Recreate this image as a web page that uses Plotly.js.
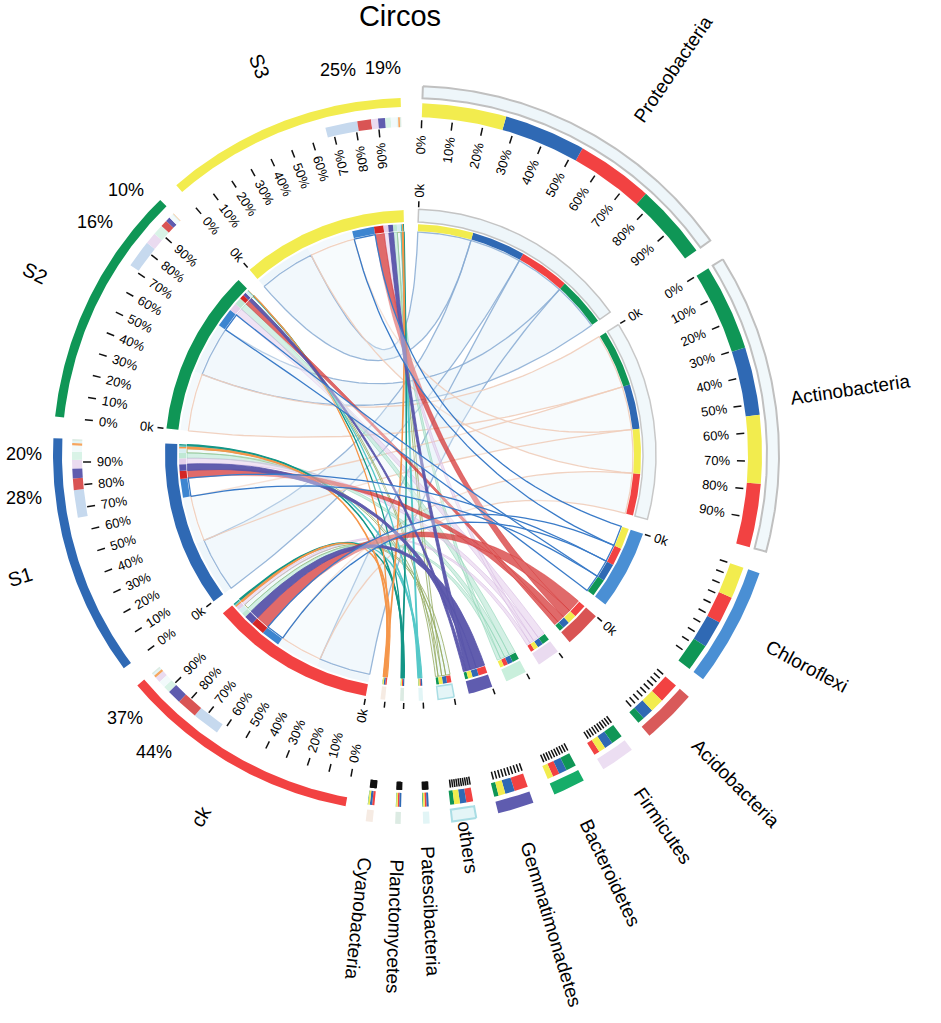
<!DOCTYPE html>
<html><head><meta charset="utf-8">
<script src="https://cdn.plot.ly/plotly-3.0.1.min.js"></script>
<style>html,body{margin:0;padding:0;background:#fff}#chart{width:941px;height:1023px}</style>
</head><body><div id="chart"></div>
<script>
// ---------------- data ----------------
const samples = ['ck', 'S1', 'S2', 'S3'];
const taxa = ['Proteobacteria', 'Actinobacteria', 'Chloroflexi', 'Acidobacteria', 'Firmicutes',
  'Bacteroidetes', 'Gemmatimonadetes', 'others', 'Patescibacteria', 'Planctomycetes', 'Cyanobacteria'];
// relative abundance (% of each sample), in the order of `taxa`
const ckPct = [34, 28, 12, 9, 2.5, 3, 6, 3, 0.8, 0.7, 1.0];
const s1Pct = [36, 30, 12, 5, 3.8, 3.5, 4.2, 2.8, 0.9, 0.8, 1.0];
const s2Pct = [33, 38, 12, 3, 5, 4.5, 2, 1.8, 0.3, 0.2, 0.2];
const s3Pct = [37, 30, 14, 6, 3, 2.5, 3, 2.5, 0.7, 0.6, 0.7];
const pctTickLabels = ['0%', '10%', '20%', '30%', '40%', '50%', '60%', '70%', '80%', '90%'];
const zeroLabel = '0k';
const sampleNoteA = ['37%', '20%', '10%', '19%'];
const sampleNoteB = ['44%', '28%', '16%', '25%'];

// ---------------- styles ----------------
const FONT = 'Liberation Sans, Arial, Helvetica, sans-serif';
const W = 941, H = 1023, CX = 410, CY = 455;
const GAP = 3.5, SAMPLE_ARC = 39.4, START = 2;
const sampleColor = ['#f24242', '#2f69b4', '#0f9656', '#f2ec4e'];
const NONE = 'rgba(255,255,255,0)';
const tx = [
  {cf:'rgba(226,240,249,0.45)', cl:'rgba(135,170,210,0.85)', cw:1.3, sub:'rgba(226,240,249,0.6)', inF:'#eef6fa', inL:'#c4c4c4', outF:'#eef6fa', outL:'#c0c0c0', comp:NONE},
  {cf:'rgba(232,243,249,0.35)', cl:'rgba(240,205,186,0.9)', cw:1.3, sub:'rgba(236,245,250,0.6)', inF:'#f1f8fb', inL:'#c8c8c8', outF:'#f1f8fb', outL:'#c0c0c0', comp:NONE},
  {cf:'rgba(255,255,255,0.35)', cl:'#3a7bc8', cw:1.3, sub:'#3d85d0', inF:'#4a8fd4', outF:'#4a8fd4', comp:'#c6d9ee'},
  {cf:'rgba(212,48,48,0.72)', cl:'rgba(212,48,48,0.55)', cw:0.8, sub:'#d42626', inF:'#d95454', outF:'#d95a5a', comp:'#d95454'},
  {cf:'rgba(226,200,233,0.5)', cl:'rgba(214,185,224,0.7)', cw:0.8, sub:'#e5cfea', inF:'#eadbf0', outF:'#ecdef2', comp:'#eadbf0'},
  {cf:'rgba(170,226,204,0.5)', cl:'rgba(140,212,180,0.7)', cw:0.8, sub:'#bfe8d4', inF:'#c9efdc', outF:'#16ad69', comp:'#d9f3e7'},
  {cf:'rgba(88,84,170,0.95)', cl:'#5854aa', cw:0.8, sub:'#5854aa', inF:'#5f5caf', outF:'#5f5caf', comp:'#5f5caf'},
  {cf:'rgba(215,240,242,0.35)', cl:'rgba(150,170,95,0.8)', cw:1, sub:'#d6eef1', inF:'#e4f5f7', inL:'#a9dde4', outF:'#e4f5f7', outL:'#a9dde4', comp:'#f2fafb'},
  {cf:'rgba(85,200,200,0.7)', cl:'#55c8c8', cw:1.1, sub:'#55c8c8', inF:'#e2f5f6', outF:'#e2f5f6', comp:'#e2f5f6'},
  {cf:'rgba(20,150,135,0.9)', cl:'#149687', cw:1.1, sub:'#149687', inF:'#dcebe3', outF:'#dcebe3', comp:'#dcebe3'},
  {cf:'rgba(245,150,70,0.85)', cl:'#f5964a', cw:1.1, sub:'#f5964a', inF:'#f6ebe3', outF:'#f6ebe3', comp:'#f5a55e'}
];
const chordOrder = [0, 1, 7, 5, 4, 8, 9, 10, 3, 6, 2];
const nameR0 = {Actinobacteria: 385, others: 370, Patescibacteria: 392};
const nameDeg = {Proteobacteria: 6};

// ---------------- layout computation ----------------
const pct = [ckPct, s1Pct, s2Pct, s3Pct];
const taxTot = taxa.map((t, i) => pct.reduce((s, p) => s + p[i], 0));
const totAll = taxTot.reduce((a, b) => a + b, 0);
const degPerUnit = (360 - GAP * (taxa.length + samples.length) - SAMPLE_ARC * samples.length) / totAll;
let cur = START;
const taxSeg = taxTot.map(v => { const s = cur, e = cur + v * degPerUnit; cur = e + GAP; return {s, e}; });
const smpSeg = samples.map(() => { const s = cur, e = cur + SAMPLE_ARC; cur = e + GAP; return {s, e}; });

const sEnd = samples.map((sm, j) => {
  const ord = taxa.map((t, i) => i).sort((a, b) => pct[j][b] - pct[j][a]);
  const res = []; let c = smpSeg[j].s;
  ord.forEach(i => { const w = pct[j][i] * SAMPLE_ARC / 100; res[i] = [c, c + w]; c += w; });
  return {ord, res};
});
const tEnd = taxa.map((t, i) => {
  const ord = samples.map((s, j) => j).sort((a, b) => pct[b][i] - pct[a][i]);
  const res = []; let c = taxSeg[i].s;
  ord.forEach(j => { const w = pct[j][i] * degPerUnit; res[j] = [c, c + w]; c += w; });
  return {ord, res};
});

// ---------------- geometry helpers ----------------
const rad = d => d * Math.PI / 180;
const P = (deg, r) => [r * Math.sin(rad(deg)), r * Math.cos(rad(deg))];
function arcPts(a0, a1, r) {
  const n = Math.max(2, Math.ceil(Math.abs(a1 - a0) / 0.4) + 1), out = [];
  for (let k = 0; k < n; k++) out.push(P(a0 + (a1 - a0) * k / (n - 1), r));
  return out;
}
function band(a0, a1, r0, r1) { return arcPts(a0, a1, r1).concat(arcPts(a1, a0, r0)); }
function bez(p0, p1) {
  const out = [];
  for (let k = 1; k < 40; k++) { const t = k / 40, u = 1 - t; out.push([u * u * p0[0] + t * t * p1[0], u * u * p0[1] + t * t * p1[1]]); }
  return out;
}
function ribbon(a0, a1, b0, b1, r) {
  return arcPts(a0, a1, r).concat(bez(P(a1, r), P(b0, r)), arcPts(b0, b1, r), bez(P(b1, r), P(a0, r)));
}
const traces = [];
function addPolys(polys, fill, lineColor, lineWidth) {
  const x = [], y = [];
  polys.forEach(p => { p.forEach(q => { x.push(q[0]); y.push(q[1]); }); x.push(p[0][0], null); y.push(p[0][1], null); });
  traces.push({type: 'scatter', mode: 'lines', x, y, fill: 'toself', fillcolor: fill,
    line: {color: lineColor || 'rgba(0,0,0,0)', width: lineWidth || 0}, hoverinfo: 'skip', showlegend: false});
}
function addLines(segs, color, width) {
  const x = [], y = [];
  segs.forEach(s => { x.push(s[0][0], s[1][0], null); y.push(s[0][1], s[1][1], null); });
  traces.push({type: 'scatter', mode: 'lines', x, y, line: {color, width}, hoverinfo: 'skip', showlegend: false});
}

const R_CH = 223;
// ---------------- chords ----------------
chordOrder.forEach(i => {
  const polys = samples.map((s, j) => {
    const a = sEnd[j].res[i], b = tEnd[i].res[j];
    return ribbon(a[0], a[1], b[0], b[1], R_CH);
  });
  addPolys(polys, tx[i].cf, tx[i].cl, tx[i].cw);
});

// ---------------- inner ring ----------------
taxa.forEach((t, i) => addPolys([band(taxSeg[i].s, taxSeg[i].e, 233, 246)], tx[i].inF, tx[i].inL, tx[i].inL ? 1.5 : 0));
samples.forEach((s, j) => addPolys([band(smpSeg[j].s, smpSeg[j].e, 233, 245)], sampleColor[j]));
taxa.forEach((t, i) => addPolys(samples.map((s, j) => band(sEnd[j].res[i][0], sEnd[j].res[i][1], 224, 231)), tx[i].sub));
samples.forEach((s, j) => addPolys(taxa.map((t, i) => band(tEnd[i].res[j][0], tEnd[i].res[j][1], 224, 231)), sampleColor[j]));

// ---------------- outer ring: samples ----------------
taxa.forEach((t, i) => addPolys(samples.map((s, j) => band(sEnd[j].res[i][0], sEnd[j].res[i][1], 328, 338)), tx[i].comp));
samples.forEach((s, j) => addPolys([band(smpSeg[j].s, smpSeg[j].e, 348, 357)], sampleColor[j]));
// ---------------- outer ring: taxa ----------------
samples.forEach((s, j) => addPolys(taxa.map((t, i) => band(tEnd[i].res[j][0], tEnd[i].res[j][1], 338, 352)), sampleColor[j]));
taxa.forEach((t, i) => addPolys([band(taxSeg[i].s, taxSeg[i].e, 357, 369)], tx[i].outF, tx[i].outL, tx[i].outL ? 2 : 0));

// ---------------- ticks ----------------
const tickSegs = [];
const allSeg = taxSeg.concat(smpSeg);
allSeg.forEach(g => tickSegs.push([P(g.s, 248), P(g.s, 254)]));
smpSeg.forEach(g => pctTickLabels.forEach((l, k) => { const d = g.s + (g.e - g.s) * k / 10; tickSegs.push([P(d, 319), P(d, 327)]); }));
taxSeg.forEach(g => pctTickLabels.forEach((l, k) => { const d = g.s + (g.e - g.s) * k / 10; tickSegs.push([P(d, 327), P(d, 335)]); }));
addLines(tickSegs, '#111', 1.5);

// ---------------- text ----------------
const ctx = document.createElement('canvas').getContext('2d');
function textW(t, size) { ctx.font = size + 'px "Liberation Sans", Arial, sans-serif'; return ctx.measureText(t).width; }
const norm = a => { a = ((a + 180) % 360 + 360) % 360 - 180; return a; };
const readRot = d => (d < 180 || d > 345) ? norm(d - 90) : norm(d + 90);
const annotations = [];
function ann(text, deg, r, angle, size, minX) {
  const p = P(deg, r);
  if (minX !== undefined) p[0] = Math.max(p[0], minX);
  annotations.push({x: p[0], y: p[1], xref: 'x', yref: 'y', text, showarrow: false, textangle: angle,
    font: {family: FONT, size, color: '#000'}, xanchor: 'center', yanchor: 'middle', borderpad: 0});
}
smpSeg.forEach(g => pctTickLabels.forEach((l, k) => { const d = g.s + (g.e - g.s) * k / 10; ann(l, d, 313 - textW(l, 13) / 2, readRot(d), 13); }));
taxSeg.forEach(g => { if (g.e - g.s > 30) pctTickLabels.forEach((l, k) => { const d = g.s + (g.e - g.s) * k / 10; ann(l, d, 320 - textW(l, 13) / 2, readRot(d), 13); }); });
allSeg.forEach(g => { if (g.e - g.s > 7) ann(zeroLabel, g.s, 258 + textW(zeroLabel, 13) / 2, readRot(g.s), 13); });
taxa.forEach((t, i) => {
  const d = (taxSeg[i].s + taxSeg[i].e) / 2 + (nameDeg[t] || 0);
  const r0 = nameR0[t] || 405;
  ann(t, d, r0 + textW(t, 19) / 2, norm(d - 90), 19);
});
samples.forEach((s, j) => {
  const g = smpSeg[j], d = (g.s + g.e) / 2;
  ann(s, d, 417, norm(d + 90), 20, -CX + 20);
  ann(sampleNoteA[j], g.s + (g.e - g.s) * 0.935, 388, 0, 18, -CX + 24);
  ann(sampleNoteB[j], g.s + (g.e - g.s) * 0.77, 392, 0, 18, -CX + 24);
});

const layout = {
  width: W, height: H, margin: {l: 0, r: 0, t: 0, b: 0},
  paper_bgcolor: '#ffffff', plot_bgcolor: '#ffffff', showlegend: false,
  title: {text: 'Circos', font: {family: FONT, size: 29, color: '#000'}, x: 400 / W, xanchor: 'center', y: 1 - 16 / H, yanchor: 'middle'},
  xaxis: {range: [-CX, W - CX], visible: false, fixedrange: true},
  yaxis: {range: [CY - H, CY], visible: false, fixedrange: true},
  annotations
};
Plotly.newPlot('chart', traces, layout, {staticPlot: true, displayModeBar: false});
</script>
</body></html>
